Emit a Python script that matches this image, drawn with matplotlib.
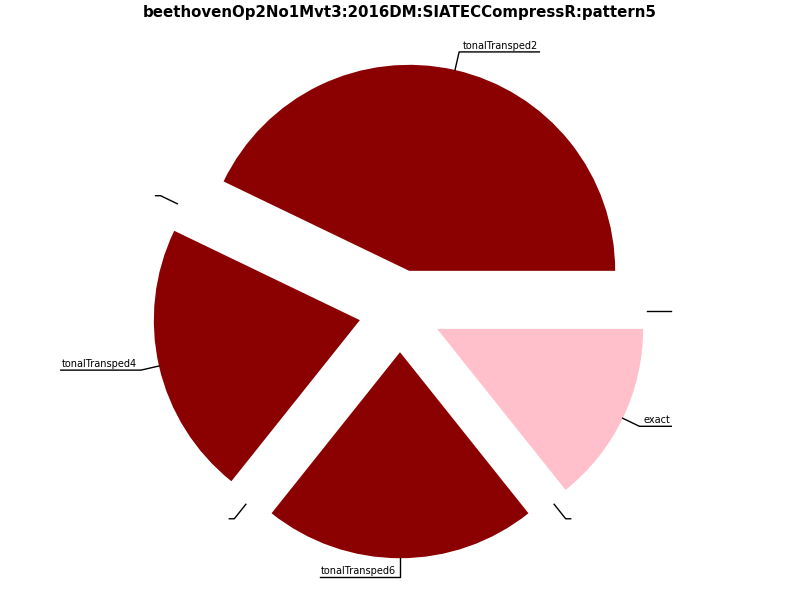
import numpy as np
import matplotlib
matplotlib.use("Agg")
import matplotlib.pyplot as plt

title = "beethovenOp2No1Mvt3:2016DM:SIATECCompressR:pattern5"
labels = ["tonalTransped2", "", "tonalTransped4", "", "tonalTransped6", "", "exact", ""]
values = [6, 0, 3, 0, 3, 0, 2, 0]
colors = ["darkred", "darkred", "darkred", "darkred", "darkred", "darkred", "pink", "pink"]
explode = [0.2] * len(values)

fig = plt.figure(figsize=(8, 6), dpi=100)
# about 206 px per data unit, pie centre at (400, 311) px
half = 1.25 * 206
ax = fig.add_axes([(400 - half) / 800, (289 - half) / 600, 2 * half / 800, 2 * half / 600])
wedges, _ = ax.pie(values, colors=colors, explode=explode, startangle=0,
                   counterclock=True, labels=None)
ax.set_xlim(-1.25, 1.25)
ax.set_ylim(-1.25, 1.25)
ax.set_aspect("equal")
ax.axis("off")

fig.suptitle(title, fontsize=10.8, fontweight="bold", y=0.992)

# mid angle of each wedge from the cumulative values
cum = np.cumsum(values) / np.sum(values)
mids = (cum - np.array(values) / np.sum(values) / 2) * 2 * np.pi

px = 2.5 / (2 * half)  # data units per pixel
texts = []
for w, lab, ang in zip(wedges, labels, mids):
	cx, cy = w.center
	ex, ey = cx + np.cos(ang), cy + np.sin(ang)
	kx, ky = cx + 1.09 * np.cos(ang), cy + 1.09 * np.sin(ang)
	side = 1 if round(np.cos(ang), 6) > 0 else -1
	t = ax.text(kx + side * 4 * px, ky + 1 * px, lab, fontsize=7,
	            ha="left" if side > 0 else "right", va="bottom")
	texts.append((t, ex, ey, kx, ky, side))

fig.canvas.draw()
r = fig.canvas.get_renderer()
for t, ex, ey, kx, ky, side in texts:
	wpx = t.get_window_extent(r).width if t.get_text() else 0
	end = kx + side * (wpx + 5) * px
	ax.plot([ex, kx, end], [ey, ky, ky], color="black", lw=1, clip_on=False)

fig.savefig("out.png", dpi=100)
